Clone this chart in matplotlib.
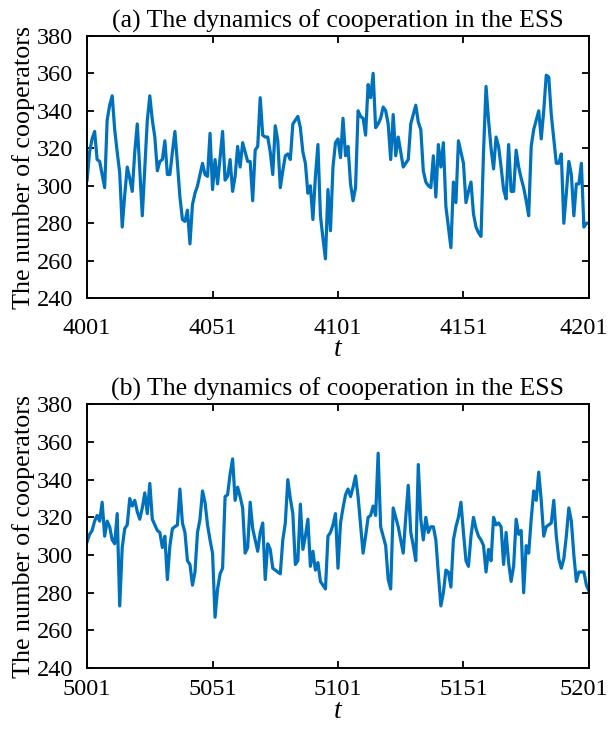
import matplotlib.pyplot as plt
import matplotlib.transforms as mtransforms
import numpy as np

plt.rcParams['font.family'] = ['Liberation Serif', 'DejaVu Serif']
plt.rcParams['mathtext.fontset'] = 'custom'
plt.rcParams['mathtext.it'] = 'Liberation Serif:italic'

# number of cooperators, t = 4001..4201
coop_a = [303, 318, 325, 329, 314, 313, 306, 299, 335, 343, 348, 330, 318, 307, 278, 295,
          310, 304, 297, 318, 333, 308, 284, 310, 335, 348, 335, 326, 308, 313, 314, 324,
          306, 306, 318, 329, 312, 294, 282, 281, 287, 269, 290, 296, 300, 306, 312, 306,
          305, 328, 298, 314, 301, 315, 329, 303, 305, 314, 297, 305, 321, 310, 323, 318,
          313, 313, 292, 319, 321, 347, 327, 326, 326, 318, 306, 332, 324, 299, 308, 316,
          317, 314, 333, 335, 337, 331, 318, 312, 296, 300, 282, 305, 322, 284, 272, 261,
          298, 276, 310, 323, 325, 315, 336, 316, 321, 301, 292, 299, 340, 337, 336, 327,
          354, 347, 360, 331, 333, 336, 342, 340, 333, 314, 338, 316, 326, 318, 310, 312,
          314, 333, 338, 343, 334, 330, 308, 302, 300, 299, 316, 294, 322, 310, 323, 289,
          278, 267, 302, 291, 324, 318, 312, 291, 297, 302, 285, 278, 275, 273, 318, 353,
          335, 320, 309, 326, 321, 310, 298, 293, 322, 297, 297, 319, 310, 304, 299, 292,
          284, 321, 330, 335, 340, 325, 340, 359, 358, 338, 325, 312, 312, 317, 280, 296,
          313, 306, 284, 301, 301, 312, 278, 280, 280]

# number of cooperators, t = 5001..5201
coop_b = [307, 311, 313, 318, 321, 318, 328, 310, 318, 315, 308, 306, 322, 273, 304, 314,
          316, 330, 326, 329, 323, 319, 325, 333, 322, 338, 319, 316, 313, 312, 304, 310,
          287, 305, 314, 315, 316, 335, 317, 312, 297, 295, 284, 291, 312, 319, 334, 328,
          316, 308, 301, 267, 282, 290, 293, 331, 332, 343, 351, 329, 336, 331, 325, 301,
          304, 328, 314, 308, 302, 312, 317, 287, 306, 303, 293, 292, 291, 290, 308, 317,
          340, 330, 322, 295, 297, 327, 303, 310, 319, 294, 302, 292, 296, 286, 284, 282,
          310, 312, 316, 322, 293, 317, 325, 332, 335, 331, 336, 342, 331, 316, 301, 310,
          320, 321, 326, 321, 354, 315, 310, 305, 287, 282, 325, 320, 315, 308, 301, 320,
          337, 312, 305, 297, 348, 319, 308, 320, 312, 315, 315, 308, 290, 273, 280, 292,
          291, 283, 308, 315, 320, 328, 312, 297, 294, 310, 320, 314, 310, 308, 305, 291,
          303, 297, 320, 316, 317, 315, 295, 312, 296, 286, 294, 319, 311, 313, 280, 305,
          301, 319, 334, 329, 344, 329, 310, 315, 316, 317, 329, 310, 298, 293, 298, 310,
          325, 318, 300, 286, 291, 291, 291, 284, 281]

t_a = np.arange(4001, 4001 + len(coop_a))
t_b = np.arange(5001, 5001 + len(coop_b))

titles = ['(a) The dynamics of cooperation in the ESS',
          '(b) The dynamics of cooperation in the ESS']
yticks = [240, 260, 280, 300, 320, 340, 360, 380]

fig = plt.figure(figsize=(6.09, 7.31), dpi=100)
ax1 = fig.add_axes([0.143, 0.592, 0.824, 0.359])
ax2 = fig.add_axes([0.143, 0.086, 0.824, 0.361])

for ax, t, y, title, xpad in [(ax1, t_a, coop_a, titles[0], 14),
                              (ax2, t_b, coop_b, titles[1], 8)]:
    ax.plot(t, y, color='#0072BD', linewidth=2.3)
    ax.set_xlim(t[0], t[-1])
    ax.set_ylim(240, 380)
    ax.set_xticks(np.arange(t[0], t[-1] + 1, 50))
    ax.set_yticks(yticks)
    ax.tick_params(direction='in', top=True, right=True, labelsize=17.5,
                   length=5, width=1.3)
    ax.tick_params(axis='x', pad=xpad)
    ax.tick_params(axis='y', pad=10)
    for s in ax.spines.values():
        s.set_linewidth(1.4)
    ax.set_title(title, fontsize=18.5, pad=6)
    ax.set_ylabel('The number of cooperators', fontsize=18.8, labelpad=1)
    ax.set_xlabel('$t$', fontsize=20, labelpad=-1)
    # keep the last x label inside the figure
    last = ax.get_xticklabels()[-1]
    last.set_transform(last.get_transform() +
                       mtransforms.ScaledTranslation(-4 / 72, 0, fig.dpi_scale_trans))

fig.savefig('out.png', dpi=100)
